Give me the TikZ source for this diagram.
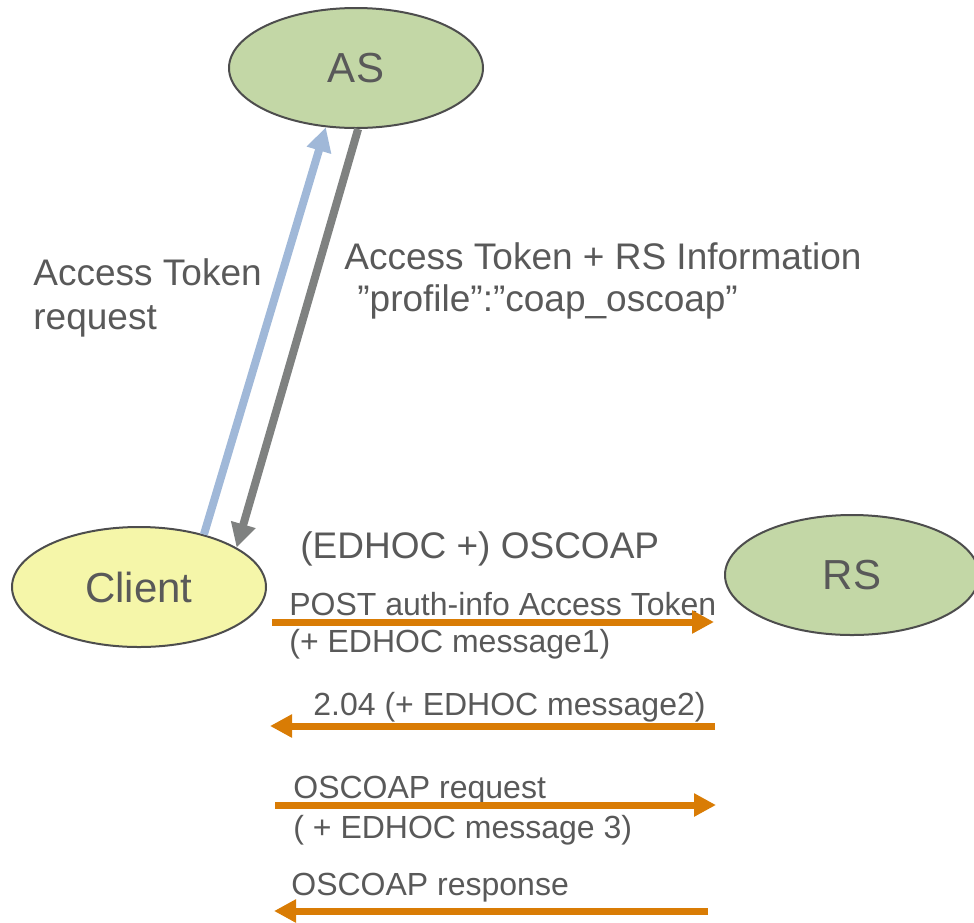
\documentclass[tikz,border=0pt]{standalone}
\usepackage{fontspec}
\setmainfont{Liberation Sans}
\usetikzlibrary{shapes.geometric,arrows.meta}

\definecolor{partyGreen}{HTML}{C3D7A6}
\definecolor{clientYellow}{HTML}{F5F6A9}
\definecolor{borderGray}{HTML}{4D4D4D}
\definecolor{textGray}{HTML}{595959}
\definecolor{requestBlue}{HTML}{A0B8D8}
\definecolor{responseGray}{HTML}{7F8180}
\definecolor{msgOrange}{HTML}{D97C05}

\begin{document}
\begin{tikzpicture}[%
    x=0.5pt,
    y=-0.5pt,
    party/.style={%
        draw=borderGray,
        line width=1pt,
        ellipse,
        inner sep=0pt,
        minimum width=127pt,
        minimum height=60pt,
        text=textGray,
        font=\fontsize{21}{25}\selectfont
    },
    bigLabel/.style={%
        anchor=base west,
        align=left,
        inner sep=0pt,
        text=textGray,
        font=\fontsize{18.5}{22}\selectfont
    },
    msgLabel/.style={%
        anchor=base west,
        align=left,
        inner sep=0pt,
        text=textGray,
        font=\fontsize{16}{18.5}\selectfont
    },
    tokenArrow/.style={%
        line width=4pt
    },
    msgArrow/.style={%
        draw=msgOrange,
        line width=3.5pt,
        -{Triangle[length=11pt,width=11pt,fill=msgOrange]}
    }
]
\useasboundingbox (0,0) rectangle (974,922);

% Parties
\node[party, fill=partyGreen] (as) at (356,68) {AS};
\node[party, fill=clientYellow] (client) at (139,587) {Client};
\node[party, fill=partyGreen] (rs) at (852,575) {RS};

% Token exchange with the AS
\draw[tokenArrow, draw=requestBlue, -{Triangle[length=12pt,width=12pt,fill=requestBlue]}] (client.39) -- (as.243);
\draw[tokenArrow, draw=responseGray, -{Triangle[length=12pt,width=12pt,fill=responseGray]}] (as.272) -- (client.22);

% (base anchor of a multi-line label is its last line)
\node[bigLabel] (tokenRequest) at (33,329) {Access Token\\request};
\node[bigLabel, font=\fontsize{18.5}{21}\selectfont] (tokenResponse) at (344,311)
    {Access Token + RS Information\\\hspace{6.5pt}”profile”:”coap\_oscoap”};

% Messages between client and RS
\node[bigLabel] (protocol) at (300,558) {(EDHOC +) OSCOAP};

\coordinate (postStart) at (272,622);
\coordinate (postEnd) at (714,622);
\coordinate (changedStart) at (715,726);
\coordinate (changedEnd) at (270,726);
\coordinate (requestStart) at (275,805);
\coordinate (requestEnd) at (716,805);
\coordinate (responseStart) at (708,911);
\coordinate (responseEnd) at (274,911);

\node[msgLabel] (postLabel) at (289,652) {POST auth-info Access Token\\(+ EDHOC message1)};
\node[msgLabel] (changedLabel) at (313,715) {2.04 (+ EDHOC message2)};
\node[msgLabel, font=\fontsize{16}{20}\selectfont] (requestLabel) at (293,838) {OSCOAP request\\( + EDHOC message 3)};
\node[msgLabel] (responseLabel) at (291,895) {OSCOAP response};

\draw[msgArrow] (postStart) -- (postEnd);
\draw[msgArrow] (changedStart) -- (changedEnd);
\draw[msgArrow] (requestStart) -- (requestEnd);
\draw[msgArrow] (responseStart) -- (responseEnd);

\end{tikzpicture}
\end{document}
